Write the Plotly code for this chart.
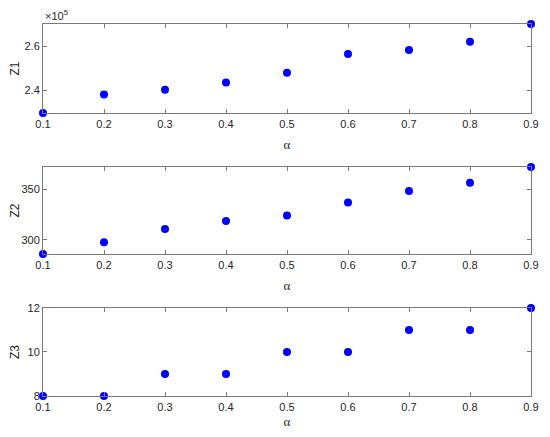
import plotly.graph_objects as go
from plotly.subplots import make_subplots

alpha = [0.1, 0.2, 0.3, 0.4, 0.5, 0.6, 0.7, 0.8, 0.9]
z1 = [229800, 238200, 240300, 243600, 248000, 256400, 258300, 262000, 270000]
z2 = [286, 297.7, 310.8, 318.7, 324, 336.8, 348.3, 356.5, 372]
z3 = [8, 8, 9, 9, 10, 10, 11, 11, 12]

x_ticks = [0.1, 0.2, 0.3, 0.4, 0.5, 0.6, 0.7, 0.8, 0.9]
z1_tickvals = [240000, 260000]
z1_ticktext = ["2.4", "2.6"]
z2_tickvals = [300, 350]
z3_tickvals = [8, 10, 12]

FRAME = "#7a7a7a"
TXT = "#262626"
FONT = "Liberation Sans, Arial, sans-serif"

fig = make_subplots(rows=3, cols=1)

series = [z1, z2, z3]
for i, z in enumerate(series, start=1):
    fig.add_trace(go.Scatter(
        x=alpha, y=z, mode="markers",
        marker=dict(color="#0000ff", size=8),
        cliponaxis=False, showlegend=False,
    ), row=i, col=1)

domains = [[0.7608, 1.0], [0.3817, 0.6156], [0.0, 0.2366]]
yranges = [[229800, 270000], [286, 372], [8, 12]]
ytitles = ["Z1", "Z2", "Z3"]

common_ax = dict(
    showline=True, linecolor=FRAME, linewidth=1, mirror="ticks",
    ticks="inside", ticklen=4, tickcolor=FRAME,
    showgrid=False, zeroline=False, automargin=False,
    tickfont=dict(family=FONT, size=11, color=TXT),
)

for i in range(3):
    xk = "xaxis" if i == 0 else f"xaxis{i + 1}"
    yk = "yaxis" if i == 0 else f"yaxis{i + 1}"
    fig.update_layout({
        xk: dict(common_ax, range=[0.1, 0.9], tickvals=x_ticks,
                 ticktext=[f"{v:.1f}" for v in x_ticks], ticklabelstandoff=1,
                 title=dict(text="α", standoff=10,
                            font=dict(family="Liberation Serif, serif", size=13, color=TXT))),
        yk: dict(common_ax, range=yranges[i], domain=domains[i],
                 title=dict(text=ytitles[i], standoff=6,
                            font=dict(family=FONT, size=12, color=TXT))),
    })

fig.update_layout(yaxis=dict(tickvals=z1_tickvals, ticktext=z1_ticktext),
                  yaxis2=dict(tickvals=z2_tickvals),
                  yaxis3=dict(tickvals=z3_tickvals))

fig.add_annotation(
    x=0, y=1, xref="paper", yref="paper", xanchor="left", yanchor="bottom",
    text="×10<sup>5</sup>", showarrow=False, yshift=0,
    font=dict(family=FONT, size=11, color=TXT),
)

# page body has an 8px margin, so the figure is sized to fit inside it
fig.update_layout(
    width=534, height=421,
    margin=dict(l=35, r=11, t=16, b=33),
    paper_bgcolor="white", plot_bgcolor="white",
)

fig.write_html("out.html")
